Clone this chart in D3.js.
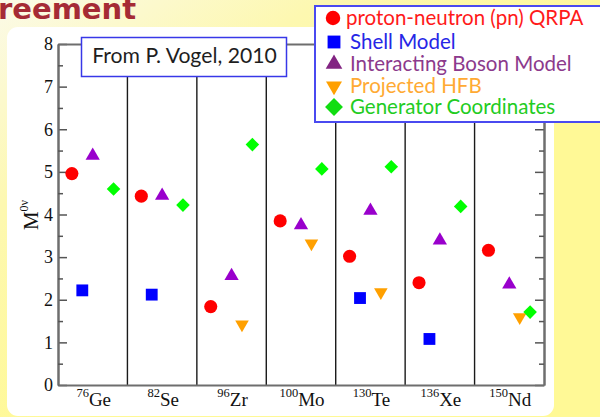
<!DOCTYPE html>
<html>
<head>
<meta charset="utf-8">
<script src="https://d3js.org/d3.v7.min.js"></script>
<style>
  body { margin: 0; overflow: hidden; }
  svg { display: block; }
</style>
</head>
<body>
<div id="chart"></div>
<script>
// nuclei on the x axis
const nuclei = ['Ge', 'Se', 'Zr', 'Mo', 'Te', 'Xe', 'Nd'];
const massNumbers = ['76', '82', '96', '100', '130', '136', '150'];

// M^0v values (null = no calculation shown)
const qrpa = [4.96, 4.43, 1.84, 3.85, 3.02, 2.40, 3.16];
const shellModel = [2.22, 2.12, null, null, 2.04, 1.08, null];
const ibm = [5.38, 4.44, 2.56, 3.75, 4.09, 3.39, 2.36];
const phfb = [null, null, 1.42, 3.32, 2.18, null, 1.59];
const gcm = [4.60, 4.22, 5.64, 5.07, 5.12, 4.19, 1.71];

const methodNames = [
  'proton-neutron (pn) QRPA',
  'Shell Model',
  'Interacting Boson Model',
  'Projected HFB',
  'Generator Coordinates',
];

const yTicks = [0, 1, 2, 3, 4, 5, 6, 7, 8];
const yMinorTicks = [0.5, 1.5, 2.5, 3.5, 4.5, 5.5, 6.5, 7.5];

{
  const W = 600;
  const H = 417;
  const margin = { top: 44, right: 56, bottom: 32, left: 58 };
  const width = W - margin.left - margin.right;
  const height = H - margin.top - margin.bottom;

  // marker style for each method, same order as methodNames
  const styles = [
    { symbol: d3.symbolCircle, size: 135, rot: 0, fill: '#ff0000', text: '#ff1a1a', offset: 0.2 },
    { symbol: d3.symbolSquare, size: 140, rot: 0, fill: '#0000ff', text: '#2626e6', offset: 0.35 },
    { symbol: d3.symbolTriangle, size: 88, rot: 0, fill: '#9900cc', text: '#8c3a8c', legendFill: '#822482', offset: 0.5 },
    { symbol: d3.symbolTriangle, size: 80, rot: 180, fill: '#ffa000', text: '#ffaa33', offset: 0.65 },
    { symbol: d3.symbolSquare, size: 92, rot: 45, fill: '#00ff00', text: '#22cc22', legendFill: '#11dd11', offset: 0.8 },
  ];
  const series = [qrpa, shellModel, ibm, phfb, gcm];

  const svg = d3.select('#chart')
    .append('svg')
    .attr('width', W)
    .attr('height', H);

  // slide background
  const defs = svg.append('defs');
  const grad = defs.append('linearGradient')
    .attr('id', 'bg')
    .attr('x1', 0).attr('y1', 0)
    .attr('x2', 0.55).attr('y2', 0.6);
  grad.append('stop').attr('offset', 0).attr('stop-color', '#fbfae8');
  grad.append('stop').attr('offset', 0.45).attr('stop-color', '#fdf8b0');
  grad.append('stop').attr('offset', 1).attr('stop-color', '#fff996');

  svg.append('rect')
    .attr('width', W)
    .attr('height', H)
    .attr('fill', 'url(#bg)');

  svg.append('text')
    .attr('x', -2)
    .attr('y', 19)
    .attr('font-family', 'DejaVu Sans')
    .attr('font-weight', 'bold')
    .attr('font-size', 29)
    .attr('fill', '#a52b35')
    .text('reement');

  svg.append('rect')
    .attr('x', 7)
    .attr('y', 27)
    .attr('width', 547)
    .attr('height', 389)
    .attr('rx', 11)
    .attr('fill', '#ffffff');

  const g = svg.append('g')
    .attr('transform', `translate(${margin.left}, ${margin.top})`);

  const xScale = d3.scaleBand()
    .domain(nuclei)
    .range([0, width])
    .paddingInner(0)
    .paddingOuter(0);

  const yScale = d3.scaleLinear()
    .domain([0, 8])
    .range([height, 0]);

  // dividers between nuclei
  g.append('g')
    .selectAll('line')
    .data(nuclei.slice(1))
    .enter()
    .append('line')
    .attr('x1', d => xScale(d))
    .attr('x2', d => xScale(d))
    .attr('y1', 0)
    .attr('y2', height)
    .attr('stroke', '#1a1a1a')
    .attr('stroke-width', 1.4);

  const axisColor = '#6e6e6e';

  const yAxis = g.append('g')
    .attr('class', 'axis axis--y')
    .call(d3.axisLeft(yScale).tickValues(yTicks).tickSizeInner(-9).tickSizeOuter(0).tickPadding(5));
  yAxis.append('g')
    .call(d3.axisLeft(yScale).tickValues(yMinorTicks).tickSizeInner(-5).tickSizeOuter(0).tickFormat(''));

  const yAxisRight = g.append('g')
    .attr('class', 'axis axis--y2')
    .attr('transform', `translate(${width}, 0)`)
    .call(d3.axisRight(yScale).tickValues(yTicks).tickSizeInner(-9).tickSizeOuter(0).tickFormat(''));
  yAxisRight.append('g')
    .call(d3.axisRight(yScale).tickValues(yMinorTicks).tickSizeInner(-5).tickSizeOuter(0).tickFormat(''));

  g.append('g')
    .attr('class', 'axis axis--x')
    .attr('transform', `translate(0, ${height})`)
    .call(d3.axisBottom(xScale).tickSize(0).tickFormat(''));

  g.append('g')
    .attr('class', 'axis axis--top')
    .call(d3.axisTop(xScale).tickSize(0).tickFormat(''));

  g.selectAll('.axis path.domain')
    .attr('stroke', axisColor)
    .attr('stroke-width', 2);
  g.selectAll('.axis .tick line')
    .attr('stroke', '#555')
    .attr('stroke-width', 1.5);
  g.selectAll('.axis--y .tick text')
    .attr('font-family', 'Liberation Serif')
    .attr('font-size', 18)
    .attr('fill', '#111');

  // nucleus labels with mass number superscript
  const xLabels = g.append('g')
    .selectAll('text')
    .data(nuclei)
    .enter()
    .append('text')
    .attr('x', d => xScale(d) + xScale.bandwidth() / 2 + 1)
    .attr('y', height + 21)
    .attr('text-anchor', 'middle')
    .attr('font-family', 'Liberation Serif')
    .attr('fill', '#111');
  xLabels.append('tspan')
    .attr('font-size', 12.5)
    .attr('dy', -9)
    .text((d, i) => massNumbers[i]);
  xLabels.append('tspan')
    .attr('font-size', 19)
    .attr('dy', 9)
    .text(d => d);

  // y axis title M^0v
  const yTitle = svg.append('text')
    .attr('transform', `translate(38, 215) rotate(-90)`)
    .attr('text-anchor', 'middle')
    .attr('font-family', 'Liberation Serif')
    .attr('fill', '#111');
  yTitle.append('tspan')
    .attr('font-size', 21)
    .text('M');
  yTitle.append('tspan')
    .attr('font-size', 12)
    .attr('dy', -10)
    .text('0ν');

  // points
  series.forEach((values, k) => {
    const st = styles[k];
    const points = nuclei
      .map((n, i) => ({ nucleus: n, value: values[i] }))
      .filter(d => d.value !== null);
    g.append('g')
      .attr('class', 'series')
      .selectAll('path')
      .data(points)
      .enter()
      .append('path')
      .attr('d', d3.symbol().type(st.symbol).size(st.size))
      .attr('transform', d => `translate(${xScale(d.nucleus) + st.offset * xScale.bandwidth()}, ${yScale(d.value)}) rotate(${st.rot})`)
      .attr('fill', st.fill);
  });

  // "From P. Vogel, 2010" note
  svg.append('rect')
    .attr('x', 81.5)
    .attr('y', 37.5)
    .attr('width', 205)
    .attr('height', 39)
    .attr('fill', '#fff')
    .attr('stroke', '#3838e8')
    .attr('stroke-width', 1.5);
  svg.append('text')
    .attr('x', 184.5)
    .attr('y', 63)
    .attr('text-anchor', 'middle')
    .attr('font-family', 'Lato')
    .attr('font-size', 21.2)
    .attr('fill', '#1e1e1e')
    .text('From P. Vogel, 2010');

  // legend
  svg.append('rect')
    .attr('x', 315)
    .attr('y', 6)
    .attr('width', 300)
    .attr('height', 116)
    .attr('fill', '#fff')
    .attr('stroke', '#4a4af0')
    .attr('stroke-width', 2);

  const legendRowsY = [18, 42, 64, 86, 107];
  const legendSizes = [165, 165, 120, 110, 160];
  const legend = svg.append('g')
    .attr('class', 'legend')
    .selectAll('g')
    .data(methodNames)
    .enter()
    .append('g')
    .attr('transform', (d, i) => `translate(0, ${legendRowsY[i]})`);

  legend.append('path')
    .attr('d', (d, i) => d3.symbol().type(styles[i].symbol).size(legendSizes[i])())
    .attr('transform', (d, i) => `translate(${i === 0 ? 333 : 334}, 0) rotate(${styles[i].rot})`)
    .attr('fill', (d, i) => styles[i].legendFill || styles[i].fill);

  legend.append('text')
    .attr('x', (d, i) => (i === 0 ? 346 : 350))
    .attr('y', 6.5)
    .attr('font-family', 'Lato')
    .attr('font-size', 20.5)
    .attr('fill', (d, i) => styles[i].text)
    .text(d => d);
}
</script>
</body>
</html>
